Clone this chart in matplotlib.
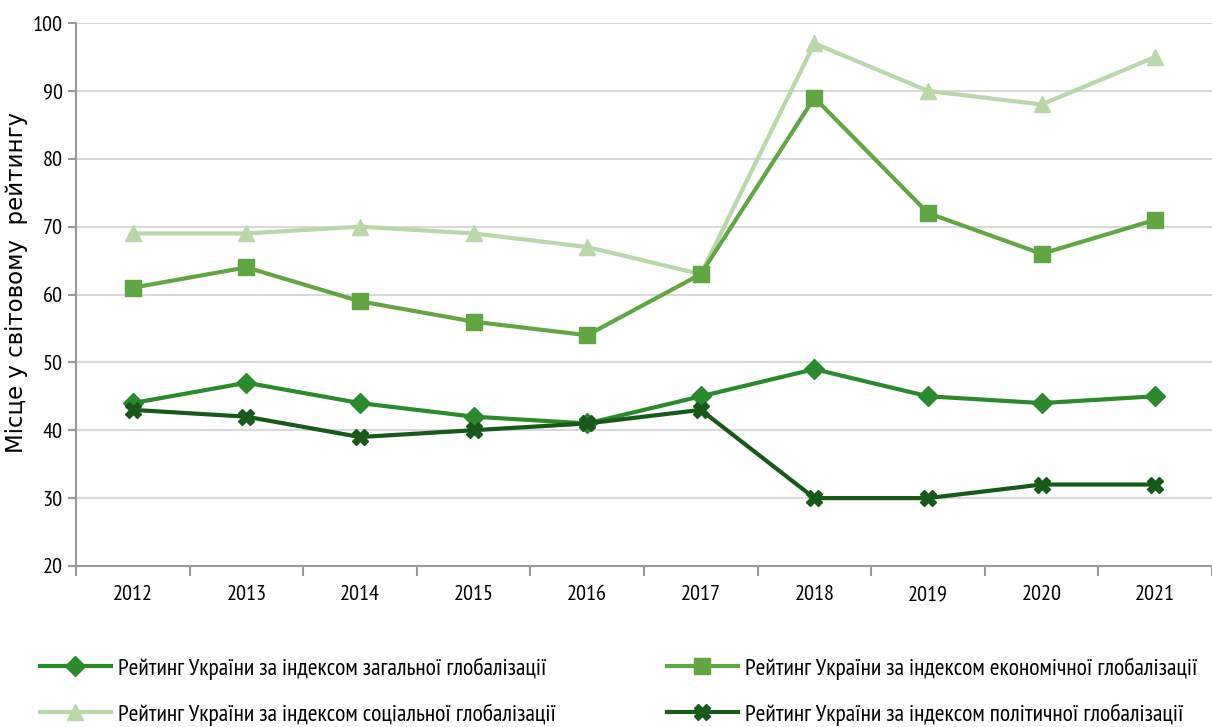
#!/usr/bin/env python3
import matplotlib
matplotlib.use("Agg")
import matplotlib.pyplot as plt
from matplotlib import font_manager
import numpy as np

years = ["2012", "2013", "2014", "2015", "2016", "2017", "2018", "2019", "2020", "2021"]
overall = [44, 47, 44, 42, 41, 45, 49, 45, 44, 45]
economic = [61, 64, 59, 56, 54, 63, 89, 72, 66, 71]
social = [69, 69, 70, 69, 67, 63, 97, 90, 88, 95]
political = [43, 42, 39, 40, 41, 43, 30, 30, 32, 32]

labels = [
    "Рейтинг України за індексом загальної глобалізації",
    "Рейтинг України за індексом економічної глобалізації",
    "Рейтинг України за індексом соціальної глобалізації",
    "Рейтинг України за індексом політичної глобалізації",
]


def has_cyrillic(name):
    for f in font_manager.fontManager.ttflist:
        if f.name == name and f.style == "normal":
            try:
                cmap = font_manager.get_font(f.fname).get_charmap()
            except Exception:
                continue
            if ord("ї") in cmap and ord("Р") in cmap:
                return True
    return False


# pick a condensed family with Cyrillic glyphs
prefs = ["Liberation Sans Narrow", "PT Sans Narrow", "Roboto Condensed",
         "Fira Sans Condensed", "Ubuntu Condensed", "Open Sans Condensed",
         "IBM Plex Sans Condensed", "Fira Sans Extra Condensed",
         "Encode Sans Condensed", "Yanone Kaffeesatz"]
names = {f.name for f in font_manager.fontManager.ttflist}
narrow = [n for n in prefs if n in names and has_cyrillic(n)]
if not narrow:
    narrow = [n for n in sorted(names)
              if ("Narrow" in n or "Condensed" in n) and has_cyrillic(n)]
NARROW = (narrow[:1] or ["Liberation Sans"]) + ["DejaVu Sans"]
fs_tick = 16 if narrow else 13
fs_leg = 17 if narrow else 13

fig = plt.figure(figsize=(12.12, 7.27), dpi=100)
ax = fig.add_axes([0.0627, 0.2215, 0.9373, 0.7468])

x = np.arange(len(years))
l1, = ax.plot(x, overall, color="#2b8a2b", lw=3, marker="D", ms=10, label=labels[0], zorder=5)
l2, = ax.plot(x, economic, color="#62a543", lw=3, marker="s", ms=12, label=labels[1], zorder=4)
l3, = ax.plot(x, social, color="#b8d8aa", lw=3, marker="^", ms=12, label=labels[2], zorder=3)
l4, = ax.plot(x, political, color="#17591a", lw=3, marker="X", ms=11, label=labels[3], zorder=6)

ax.set_ylim(20, 100)
ax.set_yticks(range(20, 101, 10))
ax.set_xlim(-0.5, 9.45)
ax.set_xticks(x)
ax.set_xticklabels(years, fontfamily=NARROW, fontsize=fs_tick)
ax.set_xticks(np.arange(-0.5, 9.6, 1), minor=True)
ax.tick_params(axis="x", which="major", length=0, pad=14)
ax.tick_params(axis="x", which="minor", length=7, color="#999999", width=1.5)
ax.tick_params(axis="y", length=6, color="#999999", width=1.5, labelsize=fs_tick)
for lab in ax.get_yticklabels():
    lab.set_fontfamily(NARROW)

ax.grid(axis="y", color="#d9d9d9", lw=1.5)
ax.set_axisbelow(True)
for s in ["top", "right"]:
    ax.spines[s].set_visible(False)
for s in ["left", "bottom"]:
    ax.spines[s].set_color("#999999")
    ax.spines[s].set_linewidth(1.5)

ax.set_ylabel("Місце у світовому  рейтингу", fontsize=16.5)
ax.yaxis.set_label_coords(-0.042, 0.523)

fig.legend(handles=[l1, l3, l2, l4], labels=[labels[0], labels[2], labels[1], labels[3]],
           loc="upper left", bbox_to_anchor=(0.033, 0.096),
           ncol=2, frameon=False, handlelength=3.0, handletextpad=0.3,
           columnspacing=4.7, labelspacing=1.0, borderpad=0, borderaxespad=0,
           prop={"family": NARROW, "size": fs_leg})

fig.savefig("out.png", dpi=100)
